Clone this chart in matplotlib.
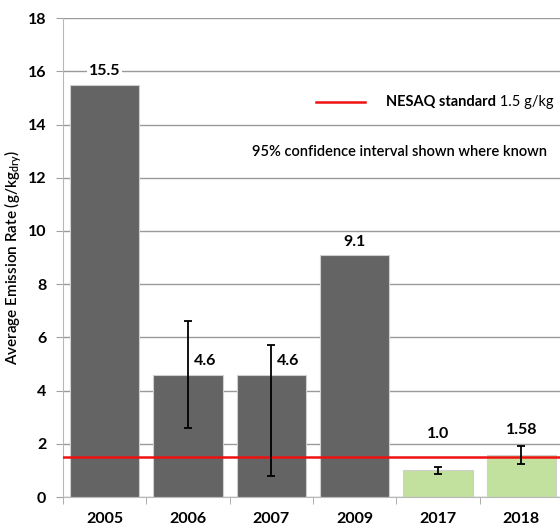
import matplotlib
matplotlib.use("Agg")
import matplotlib.pyplot as plt
import numpy as np

years = ["2005", "2006", "2007", "2009", "2017", "2018"]
rates = [15.5, 4.6, 4.6, 9.1, 1.0, 1.58]
value_labels = ["15.5", "4.6", "4.6", "9.1", "1.0", "1.58"]
ci_low = [None, 2.6, 0.8, None, 0.85, 1.25]
ci_high = [None, 6.6, 5.7, None, 1.12, 1.92]
standard = 1.5

dark = "#646464"
green = "#c2e09e"
colors = [dark, dark, dark, dark, green, green]

plt.rcParams["font.family"] = ["Lato", "DejaVu Sans"]

fig = plt.figure(figsize=(5.6, 5.28), dpi=100)
ax = fig.add_axes([0.1125, 0.0587, 0.893, 0.907])

x = np.arange(len(years))
ax.bar(x, rates, width=0.83, color=colors, edgecolor="#d0d0d0", linewidth=0.8, zorder=2)

# confidence intervals where known
for xi, v, lo, hi in zip(x, rates, ci_low, ci_high):
    if lo is None:
        continue
    ax.errorbar(xi, v, yerr=[[v - lo], [hi - v]], fmt="none", ecolor="black",
                elinewidth=1.3, capsize=3, capthick=1.3, zorder=4)

# label placement: (horizontal shift in categories, height in data units)
label_pos = {0: (0.0, 16.0), 1: (0.2, 5.1), 2: (0.2, 5.1),
             3: (0.0, 9.6), 4: (0.0, 2.35), 5: (0.0, 2.5)}
for xi, txt in zip(x, value_labels):
    dx, y = label_pos[xi]
    ax.text(xi + dx, y, txt, ha="center", va="center", fontsize=11.5,
            fontweight="bold", zorder=5,
            bbox=dict(facecolor="white", edgecolor="none", pad=1.5) if xi == 0 else None)

ax.axhline(standard, color="#ee1111", linewidth=1.8, zorder=3)

ax.set_xlim(-0.5, 5.5)
ax.set_ylim(0, 18)
ax.set_yticks(np.arange(0, 19, 2))
ax.set_xticks(x)
ax.set_xticklabels(years)
ax.set_xticks(np.arange(-0.5, 6, 1), minor=True)
ax.tick_params(axis="x", which="major", length=0, pad=11, labelsize=11.5)
ax.tick_params(axis="x", which="minor", length=5, color="#a0a0a0", direction="out")
ax.tick_params(axis="y", length=5, color="#a0a0a0", labelsize=11.5, pad=7)
for lab in ax.get_xticklabels() + ax.get_yticklabels():
    lab.set_fontweight("bold")

ax.grid(axis="y", color="#9a9a9a", linewidth=1.0, zorder=0)
ax.set_axisbelow(True)
for side in ["top", "right"]:
    ax.spines[side].set_visible(False)
ax.spines["left"].set_color("#b8b8b8")
ax.spines["bottom"].set_color("#b8b8b8")

ax.set_ylabel("Average Emission Rate (g/kg$_{\\mathregular{dry}}$)", fontsize=11,
              fontweight="semibold", labelpad=3)

# legend entry for the standard line
ax.plot([2.53, 3.12], [14.85, 14.85], color="#ee1111", linewidth=1.8, zorder=5)
t1 = ax.text(3.37, 14.85, "NESAQ standard", ha="left", va="center", fontsize=10.5,
             fontweight="bold")
ax.annotate(" 1.5 g/kg", xy=(1, 0.5), xycoords=t1, ha="left", va="center", fontsize=10.5)
ax.text(1.77, 12.97, "95% confidence interval shown where known", ha="left", va="center",
        fontsize=10.5, fontweight="semibold")

fig.savefig("out.png", dpi=100)
